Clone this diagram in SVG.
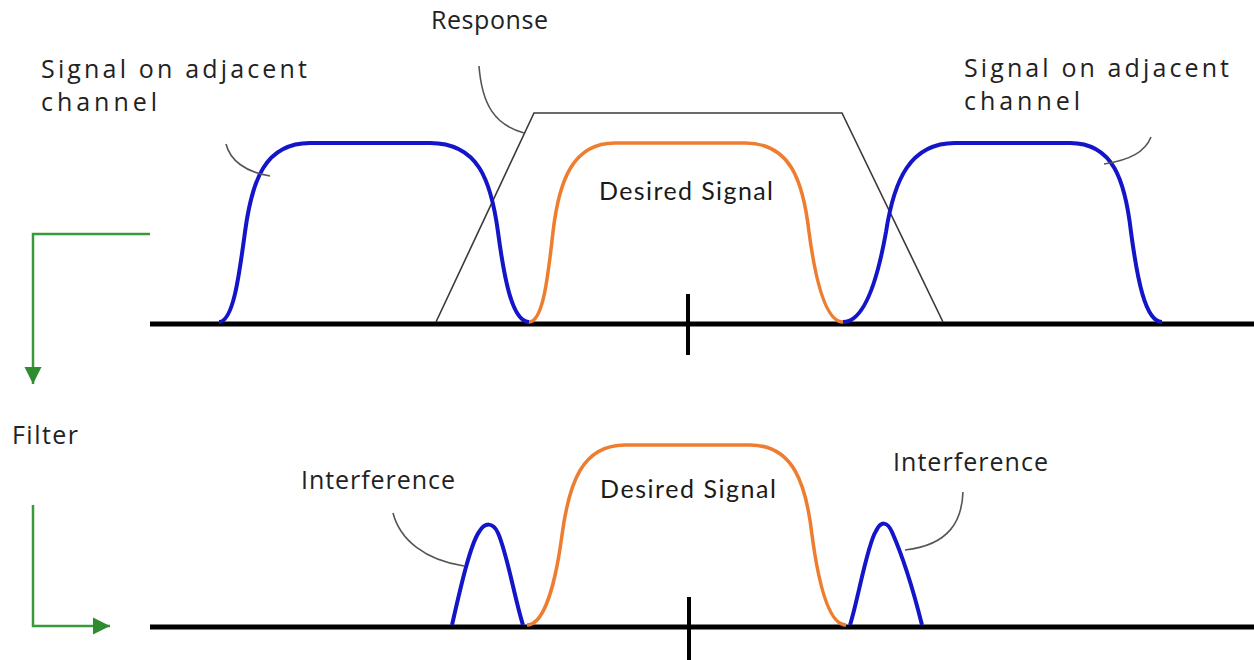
<svg xmlns="http://www.w3.org/2000/svg" width="1254" height="660" viewBox="0 0 1254 660">
<style>
.lbl{font-family:"Open Sans","DejaVu Sans",sans-serif;font-size:25px;fill:#222}
.ds{font-family:Lato,"Liberation Sans",sans-serif;font-size:25px;fill:#1a1a1a}
.axis{stroke:#000;stroke-width:5;fill:none}
.tick{stroke:#000;stroke-width:4;fill:none}
.blue{stroke:#1414c8;stroke-width:4;fill:none;stroke-linejoin:round}
.orange{stroke:#ee7d2f;stroke-width:3.5;fill:none;stroke-linejoin:round}
.leader{stroke:#555;stroke-width:1.6;fill:none}
.resp{stroke:#3a3a3a;stroke-width:1.6;fill:none}
.green{stroke:#3a9a3a;stroke-width:2.5;fill:none}
</style>
<defs>
<marker id="ga" viewBox="0 0 10 10" refX="10" refY="5" markerWidth="7" markerHeight="7" markerUnits="strokeWidth" orient="auto">
<path d="M0,0 L10,5 L0,10 z" fill="#2e8b2e"/>
</marker>
</defs>
<rect width="1254" height="660" fill="#fff"/>

<g id="axes">
<line class="axis" x1="150" y1="324" x2="1254" y2="324"/>
<line class="tick" x1="688" y1="294" x2="688" y2="355"/>
<line class="axis" x1="150" y1="627" x2="1254" y2="627"/>
<line class="tick" x1="689" y1="597" x2="689" y2="660"/>
</g>

<g id="response">
<path class="resp" d="M436,322 L534,113 L842,113 L943,322"/>
<text class="lbl" x="431" y="29" textLength="117" lengthAdjust="spacing">Response</text>
</g>

<g id="adjacent-left">
<path class="blue" d="M219,322 C233,322 239,277 245,232 C252,180 265,143 310,143 L430,143 C478,143 491,180 498,232 C504,277 512,322 529,322"/>
<text class="lbl" x="41" y="78" textLength="266" lengthAdjust="spacing">Signal on adjacent</text>
<text class="lbl" x="41" y="111" textLength="116" lengthAdjust="spacing">channel</text>
</g>

<g id="desired-top">
<path class="orange" d="M529,322 C543,322 548,277 553,232 C559,180 573,143 615,143 L745,143 C790,143 803,180 809,232 C815,277 825,322 843,322"/>
<text class="ds" x="599" y="200" textLength="174" lengthAdjust="spacing">Desired Signal</text>
</g>

<g id="adjacent-right">
<path class="blue" d="M843,322 C865,322 878,277 886,232 C894,180 910,143 955,143 L1070,143 C1113,143 1125,180 1131,232 C1137,277 1145,322 1162,322"/>
<text class="lbl" x="964" y="77" textLength="265" lengthAdjust="spacing">Signal on adjacent</text>
<text class="lbl" x="964" y="110" textLength="116" lengthAdjust="spacing">channel</text>
</g>

<g id="filter">
<text class="lbl" x="12" y="444" textLength="66" lengthAdjust="spacing">Filter</text>
</g>

<g id="desired-bottom">
<path class="orange" d="M527,625 C545,625 556,580 562,535 C569,483 582,445 625,445 L750,445 C793,445 806,483 812,535 C818,580 828,625 846,625"/>
<text class="ds" x="600" y="498" textLength="176" lengthAdjust="spacing">Desired Signal</text>
</g>

<g id="interference-left">
<path class="blue" d="M452,625 C460,590 470,545 479,532 C485,522 493,522 498,533 C507,553 515,600 523,625"/>
<text class="lbl" x="301" y="489" textLength="154" lengthAdjust="spacing">Interference</text>
</g>

<g id="interference-right">
<path class="blue" d="M850,625 C858,600 867,545 876,531 C881,521 887,521 892,532 C903,557 915,597 922,625"/>
<text class="lbl" x="893" y="471" textLength="155" lengthAdjust="spacing">Interference</text>
</g>

<g id="connectors">
<path class="leader" d="M479,66 C482,105 495,125 524,133"/>
<path class="leader" d="M226,144 C230,160 245,172 270,176"/>
<path class="leader" d="M1151,137 C1145,152 1130,160 1104,164"/>
<path class="leader" d="M393,513 C400,540 425,560 464,566"/>
<path class="leader" d="M963,492 C962,520 950,545 905,550"/>
<path class="green" d="M150,234 L33,234 L33,384" marker-end="url(#ga)"/>
<path class="green" d="M33,505 L33,626 L110,626" marker-end="url(#ga)"/>
</g>
</svg>
